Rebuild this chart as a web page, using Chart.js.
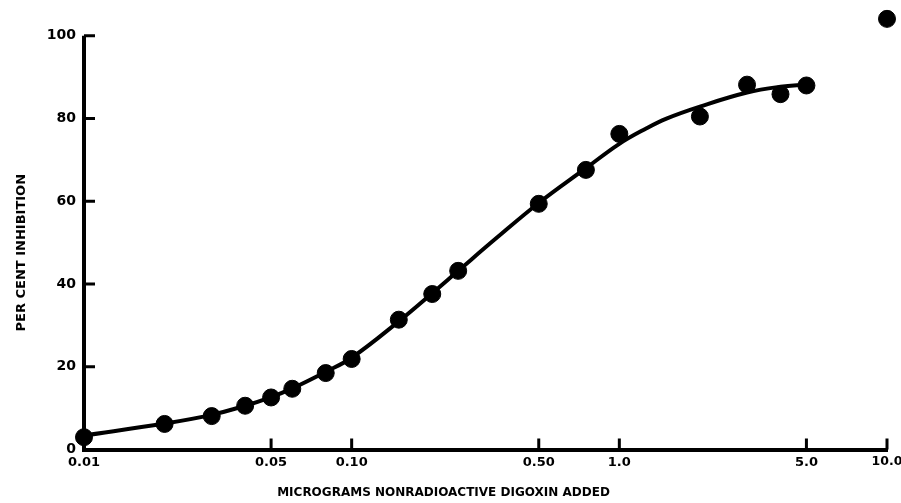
<!DOCTYPE html>
<html lang="en">
  <head>
    <meta charset="UTF-8" />
    <meta name="viewport" content="width=device-width, initial-scale=1.0" />
    <script src="https://cdn.jsdelivr.net/npm/chart.js@4.4.1/dist/chart.umd.min.js"></script>
    <title>Digoxin inhibition</title>
    <style>
      html, body { margin: 0; padding: 0; background: #fff; }
      #wrap { width: 901px; height: 503px; }
    </style>
  </head>
  <body>
    <div id="wrap"><canvas id="myChart" width="901" height="503"></canvas></div>
    <script>
      // measured points
      const doses = [0.01, 0.02, 0.03, 0.04, 0.05, 0.06, 0.08, 0.10, 0.15, 0.20, 0.25, 0.50, 0.75, 1.0, 2.0, 3.0, 4.0, 5.0, 10.0];
      const inhibition = [3.0, 6.2, 8.1, 10.6, 12.6, 14.7, 18.5, 21.9, 31.4, 37.6, 43.2, 59.4, 67.6, 76.3, 80.5, 88.2, 85.9, 88.0, 104.1];

      // fitted curve
      const curveDoses = [0.01, 0.02, 0.03, 0.04, 0.05, 0.06, 0.08, 0.10, 0.15, 0.20, 0.25, 0.35, 0.50, 0.75, 1.0, 1.25, 1.5, 2.0, 3.0, 4.0, 5.0];
      const curveValues = [3.4, 6.3, 8.4, 10.6, 12.7, 14.8, 18.8, 22.2, 31.0, 37.8, 43.2, 51.3, 59.6, 68.0, 73.9, 77.5, 80.0, 82.9, 86.3, 87.7, 88.2];

      const xTicks = [0.01, 0.05, 0.10, 0.50, 1.0, 5.0, 10.0];
      const xTickLabels = ["0.01", "0.05", "0.10", "0.50", "1.0", "5.0", "10.0"];
      const yTicks = [0, 20, 40, 60, 80, 100];
      const yTitle = "PER CENT INHIBITION";

      // y axis line (stops at 100), inward tick marks and the y title
      const axisDecor = {
        id: "axisDecor",
        afterDraw(chart) {
          const { ctx, chartArea, scales } = chart;
          const x = scales.x, y = scales.y;
          const top = y.getPixelForValue(100);
          const bottom = y.getPixelForValue(0);
          ctx.save();
          ctx.strokeStyle = "#000";
          ctx.lineWidth = 4;
          ctx.beginPath();
          ctx.moveTo(chartArea.left, top);
          ctx.lineTo(chartArea.left, bottom + 2);
          ctx.stroke();

          ctx.lineWidth = 3;
          ctx.beginPath();
          x.ticks.forEach((t) => {
            const px = x.getPixelForValue(t.value);
            ctx.moveTo(px, bottom);
            ctx.lineTo(px, bottom - 11);
          });
          y.ticks.forEach((t) => {
            const py = y.getPixelForValue(t.value);
            ctx.moveTo(chartArea.left, py);
            ctx.lineTo(chartArea.left + 11, py);
          });
          ctx.stroke();

          ctx.translate(22, (top + bottom) / 2 + 10);
          ctx.rotate(-Math.PI / 2);
          ctx.fillStyle = "#000";
          ctx.font = "bold 13px 'DejaVu Sans'";
          ctx.textAlign = "center";
          ctx.textBaseline = "middle";
          ctx.fillText(yTitle, 0, 0);
          ctx.restore();
        },
      };

      const ctx = document.getElementById("myChart").getContext("2d");
      const myChart = new Chart(ctx, {
        data: {
          datasets: [
            {
              type: "line",
              data: curveDoses.map((d, i) => ({ x: d, y: curveValues[i] })),
              borderColor: "#000",
              borderWidth: 4,
              pointRadius: 0,
              tension: 0.4,
              fill: false,
            },
            {
              type: "scatter",
              data: doses.map((d, i) => ({ x: d, y: inhibition[i] })),
              backgroundColor: "#000",
              borderColor: "#000",
              pointRadius: 8.5,
              clip: false,
            },
          ],
        },
        options: {
          responsive: false,
          animation: false,
          events: [],
          layout: { padding: { top: 11, right: 14, left: 0, bottom: 0 } },
          plugins: {
            legend: { display: false },
            tooltip: { enabled: false },
            title: {
              display: true,
              position: "bottom",
              text: "MICROGRAMS NONRADIOACTIVE DIGOXIN ADDED",
              color: "#000",
              font: { family: "DejaVu Sans", size: 12, weight: "bold" },
              padding: { top: 8, bottom: 3 },
            },
          },
          scales: {
            x: {
              type: "logarithmic",
              min: 0.01,
              max: 10,
              afterBuildTicks: (scale) => {
                scale.ticks = xTicks.map((v) => ({ value: v }));
              },
              afterFit: (scale) => {
                scale.height = 28;
                scale.paddingLeft = 0;
                scale.paddingRight = 0;
              },
              ticks: {
                autoSkip: false,
                maxRotation: 0,
                padding: 5,
                color: "#000",
                font: (c) => ({ family: "DejaVu Sans", size: c.index === xTicks.length - 1 ? 12.5 : 13, weight: "bold" }),
                callback: (value, index) => xTickLabels[index],
              },
              grid: { display: false, drawTicks: false },
              border: { display: true, color: "#000", width: 4 },
            },
            y: {
              min: 0,
              max: 106,
              afterBuildTicks: (scale) => {
                scale.ticks = yTicks.map((v) => ({ value: v }));
              },
              afterFit: (scale) => {
                scale.width = 84;
                scale.paddingTop = 0;
                scale.paddingBottom = 0;
              },
              ticks: {
                padding: 8,
                color: "#000",
                font: { family: "DejaVu Sans", size: 14, weight: "bold" },
              },
              grid: { display: false, drawTicks: false },
              border: { display: false },
            },
          },
        },
        plugins: [axisDecor],
      });
    </script>
  </body>
</html>
